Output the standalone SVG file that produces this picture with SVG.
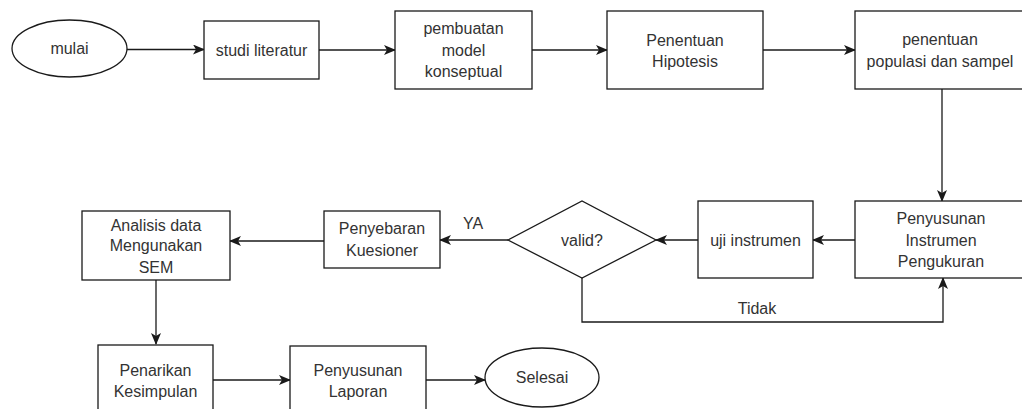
<svg xmlns="http://www.w3.org/2000/svg" width="1022" height="409" viewBox="0 0 1022 409">
<style>
.n{fill:#ffffff;stroke:#1a1a1a;stroke-width:1.3}
.t{font-family:"Liberation Sans",Arial,sans-serif;font-size:16px;fill:#333333;text-anchor:middle}
.c{fill:none;stroke:#1a1a1a;stroke-width:1.3}
</style>
<defs>
<marker id="ah" viewBox="0 0 12 10" refX="11" refY="5" markerWidth="12" markerHeight="10" markerUnits="userSpaceOnUse" orient="auto">
<path d="M0,0 L12,5 L0,10 L3,5 Z" fill="#1a1a1a"/>
</marker>
</defs>
<rect width="1022" height="409" fill="#ffffff"/>
<g id="connectors">
<path class="c" d="M127 49.5 H204" marker-end="url(#ah)"/>
<path class="c" d="M319 50 H395" marker-end="url(#ah)"/>
<path class="c" d="M532 50 H607" marker-end="url(#ah)"/>
<path class="c" d="M763 50 H855" marker-end="url(#ah)"/>
<path class="c" d="M942 89 V201" marker-end="url(#ah)"/>
<path class="c" d="M855 240 H813" marker-end="url(#ah)"/>
<path class="c" d="M698 240 H656" marker-end="url(#ah)"/>
<path class="c" d="M508 240 H440" marker-end="url(#ah)"/>
<path class="c" d="M324 241 H230" marker-end="url(#ah)"/>
<path class="c" d="M156 280 V344" marker-end="url(#ah)"/>
<path class="c" d="M213 380 H290" marker-end="url(#ah)"/>
<path class="c" d="M426 380 H485" marker-end="url(#ah)"/>
<path class="c" d="M582 278 V322 H943 V278" marker-end="url(#ah)"/>
<text class="t" x="473" y="229">YA</text>
<text class="t" x="757" y="314">Tidak</text>
</g>
<g id="mulai">
<ellipse class="n" cx="69.5" cy="48.5" rx="57.5" ry="28.5"/>
<text class="t" x="69.5" y="54">mulai</text>
</g>
<g id="studi-literatur">
<rect class="n" x="204" y="21" width="115" height="58"/>
<text class="t" x="261.5" y="55.5">studi literatur</text>
</g>
<g id="pembuatan-model">
<rect class="n" x="395" y="11" width="137" height="78"/>
<text class="t" x="463.5" y="34">pembuatan</text>
<text class="t" x="463.5" y="55.5">model</text>
<text class="t" x="463.5" y="77">konseptual</text>
</g>
<g id="penentuan-hipotesis">
<rect class="n" x="607" y="11" width="156" height="78"/>
<text class="t" x="685" y="45.5">Penentuan</text>
<text class="t" x="685" y="67">Hipotesis</text>
</g>
<g id="penentuan-populasi">
<rect class="n" x="855" y="11" width="170" height="78"/>
<text class="t" x="940" y="45">penentuan</text>
<text class="t" x="940" y="67">populasi dan sampel</text>
</g>
<g id="penyusunan-instrumen">
<rect class="n" x="855" y="201" width="170" height="77"/>
<text class="t" x="941" y="224">Penyusunan</text>
<text class="t" x="941" y="246">Instrumen</text>
<text class="t" x="941" y="267">Pengukuran</text>
</g>
<g id="uji-instrumen">
<rect class="n" x="698" y="201" width="115" height="77"/>
<text class="t" x="755.5" y="246">uji instrumen</text>
</g>
<g id="valid">
<polygon class="n" points="508,240 582,201 656,240 582,278"/>
<text class="t" x="582" y="246">valid?</text>
</g>
<g id="penyebaran-kuesioner">
<rect class="n" x="324" y="211" width="116" height="57"/>
<text class="t" x="382" y="234">Penyebaran</text>
<text class="t" x="382" y="256">Kuesioner</text>
</g>
<g id="analisis-data">
<rect class="n" x="82" y="211" width="148" height="69"/>
<text class="t" x="156" y="230.5">Analisis data</text>
<text class="t" x="156" y="251">Mengunakan</text>
<text class="t" x="156" y="272.5">SEM</text>
</g>
<g id="penarikan-kesimpulan">
<rect class="n" x="98" y="345" width="115" height="80"/>
<text class="t" x="155.5" y="376">Penarikan</text>
<text class="t" x="155.5" y="397">Kesimpulan</text>
</g>
<g id="penyusunan-laporan">
<rect class="n" x="290" y="346" width="136" height="80"/>
<text class="t" x="358" y="376">Penyusunan</text>
<text class="t" x="358" y="397">Laporan</text>
</g>
<g id="selesai">
<ellipse class="n" cx="542" cy="377.5" rx="57" ry="29.5"/>
<text class="t" x="542" y="383">Selesai</text>
</g>
</svg>
